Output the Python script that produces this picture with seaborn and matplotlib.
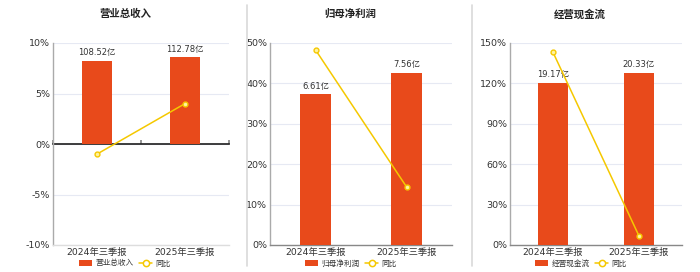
import matplotlib
matplotlib.use("Agg")
import matplotlib.pyplot as plt
import seaborn as sns
import pandas as pd
from matplotlib.patches import Patch
from matplotlib.lines import Line2D
from matplotlib.ticker import FuncFormatter

sns.set_theme(style="white")
plt.rcParams['font.family'] = ['DejaVu Sans', 'Noto Sans CJK SC']

periods = ['2024年三季报', '2025年三季报']
titles = ['营业总收入', '归母净利润', '经营现金流']
revenue = [108.52, 112.78]
revenue_yoy = [-1.0, 4.0]
profit = [6.61, 7.56]
profit_yoy = [48.3, 14.4]
cash = [19.17, 20.33]
cash_yoy = [143.1, 6.7]
yoy_label = '同比'

BAR = '#E84A1B'
LINE = '#F5C800'
TXT = '#333333'

fig = plt.figure(figsize=(7.0, 2.72), dpi=100)
W, H = 700, 272

panels = [
    dict(vals=revenue, yoy=revenue_yoy, title=titles[0], x0=53, x1=229,
         ylim=(-10, 10), ticks=[-10, -5, 0, 5, 10], blim=(-131.4, 131.4),
         tcx=125, lcx=125),
    dict(vals=profit, yoy=profit_yoy, title=titles[1], x0=270, x1=452,
         ylim=(0, 50), ticks=[0, 10, 20, 30, 40, 50], blim=(0, 8.86),
         tcx=350, lcx=351),
    dict(vals=cash, yoy=cash_yoy, title=titles[2], x0=510, x1=682,
         ylim=(0, 150), ticks=[0, 30, 60, 90, 120, 150], blim=(0, 23.83),
         tcx=580, lcx=581),
]

top, bottom = 43, 245
for i, p in enumerate(panels):
    rect = [p['x0'] / W, (H - bottom) / H, (p['x1'] - p['x0']) / W, (bottom - top) / H]
    ax = fig.add_axes(rect)
    axb = ax.twinx()
    axl = ax.twinx()
    ax.set_zorder(0)
    axb.set_zorder(1)
    axl.set_zorder(2)
    axb.patch.set_visible(False)
    axl.patch.set_visible(False)

    df = pd.DataFrame({'period': periods, 'value': p['vals'], 'yoy': p['yoy']})

    ax.set_xlim(-0.5, 1.5)
    ax.set_ylim(*p['ylim'])
    ax.set_yticks(p['ticks'])
    ax.yaxis.set_major_formatter(FuncFormatter(lambda v, pos: f"{v:.0f}%"))
    for t in p['ticks']:
        ax.axhline(t, color='#e6e9f3', lw=0.8, zorder=0)
    ax.tick_params(axis='y', labelsize=6.8, colors=TXT, length=0, pad=2)
    ax.tick_params(axis='x', labelsize=6.7, colors=TXT, length=0, pad=2)
    for s in ['top', 'right']:
        ax.spines[s].set_visible(False)
    ax.spines['left'].set_color('#aaaaaa')
    ax.spines['left'].set_linewidth(1.0)
    if p['ylim'][0] < 0:
        ax.spines['bottom'].set_color('#dddddd')
        sec = ax.secondary_xaxis(0.5)
        sec.set_xticks([-0.5, 0.5, 1.5])
        sec.set_xticklabels(['', '', ''])
        sec.tick_params(axis='x', length=3, color='#888888', direction='out')
        sec.spines['bottom'].set_color('#888888')
        sec.spines['bottom'].set_linewidth(1.0)
    else:
        ax.spines['bottom'].set_color('#888888')
        ax.set_xticks([-0.5, 0.5, 1.5], minor=True)
        ax.tick_params(axis='x', which='minor', length=3, color='#888888', direction='out')
    ax.spines['bottom'].set_linewidth(1.0)

    sns.barplot(data=df, x='period', y='value', ax=axb, color=BAR, width=0.34,
                saturation=1, edgecolor='none')
    axb.set_ylim(*p['blim'])
    axb.set_xlim(-0.5, 1.5)
    axb.set_yticks([])
    axb.set_ylabel('')
    axb.set_xlabel('')
    for s in axb.spines.values():
        s.set_visible(False)
    for j, v in enumerate(p['vals']):
        axb.annotate(f"{v:.2f}亿", (j, v), xytext=(0, 2.5), textcoords='offset points',
                     ha='center', va='bottom', fontsize=6, color=TXT)

    sns.lineplot(data=df, x='period', y='yoy', ax=axl, color=LINE, lw=1.1,
                 marker='o', markersize=3.5, markerfacecolor='#fff3a0',
                 markeredgecolor=LINE, markeredgewidth=1.0, sort=False)
    axl.set_ylim(*p['ylim'])
    axl.set_xlim(-0.5, 1.5)
    axl.set_yticks([])
    axl.set_ylabel('')
    axl.set_xlabel('')
    for s in axl.spines.values():
        s.set_visible(False)

    ax.set_xticks([0, 1])
    ax.set_xticklabels(periods)
    axb.tick_params(axis='x', length=0, labelbottom=False)
    axl.tick_params(axis='x', length=0, labelbottom=False)

    fig.text(p['tcx'] / W, 1 - 14 / H, p['title'], ha='center', va='center',
             fontsize=7.5, fontweight='bold', color='#222222')

    handles = [Patch(facecolor=BAR, edgecolor='none'),
               Line2D([0], [0], color=LINE, lw=1.1, marker='o', markersize=4.5,
                      markerfacecolor='white', markeredgecolor=LINE, markeredgewidth=1.1)]
    fig.legend(handles, [p['title'], yoy_label], loc='center',
               bbox_to_anchor=(p['lcx'] / W, 1 - 263 / H), ncol=2, frameon=False,
               fontsize=5.5, handlelength=1.7, handleheight=0.8, handletextpad=0.4,
               columnspacing=0.8, labelcolor=TXT, borderpad=0)

for xs in [247, 472]:
    fig.add_artist(Line2D([xs / W, xs / W], [1 - 5 / H, 1 - 266 / H], color='#d9d9d9', lw=1.2))

fig.savefig('out.png', dpi=100)
